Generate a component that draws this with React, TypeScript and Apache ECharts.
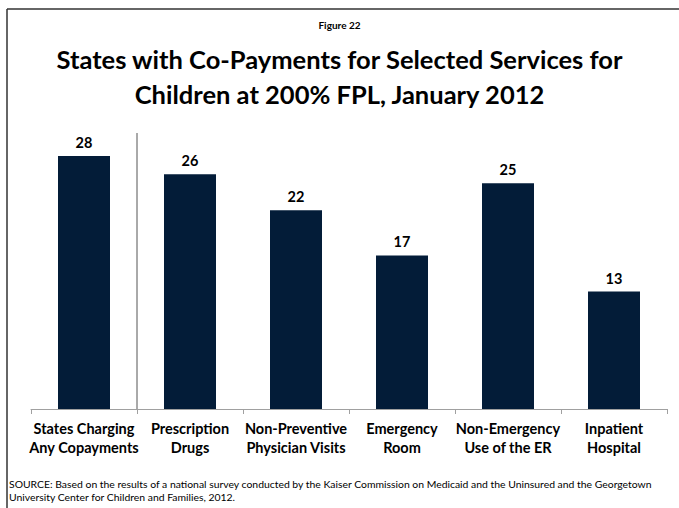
import React, { useEffect, useRef } from "react";
import * as echarts from "echarts";

const categories = [
  "States Charging\nAny Copayments",
  "Prescription\nDrugs",
  "Non-Preventive\nPhysician Visits",
  "Emergency\nRoom",
  "Non-Emergency\nUse of the ER",
  "Inpatient\nHospital",
];
const values = [28, 26, 22, 17, 25, 13];
const figureLabel = "Figure 22";
const titleText = "States with Co-Payments for Selected Services for\nChildren at 200% FPL, January 2012";
const sourceText =
  "SOURCE: Based on the results of a national survey conducted by the Kaiser Commission on Medicaid and the Uninsured and the Georgetown\nUniversity Center for Children and Families, 2012.";

const FONT = "Lato, 'Open Sans', sans-serif";

export default function App() {
  const ref = useRef<HTMLDivElement>(null);
  useEffect(() => {
    if (!ref.current) return;
    const chart = echarts.init(ref.current, null, { renderer: "svg" });
    chart.setOption({
      animation: false,
      backgroundColor: "#ffffff",
      title: [
        {
          text: figureLabel,
          left: "center",
          top: 15,
          textStyle: { fontFamily: FONT, fontSize: 10, fontWeight: "bold", color: "#000" },
        },
        {
          text: titleText,
          left: "center",
          top: 36,
          textStyle: {
            fontFamily: FONT,
            fontSize: 25.5,
            fontWeight: "bold",
            color: "#000",
            lineHeight: 35,
          },
        },
      ],
      grid: { left: 31, right: 12, top: 138, bottom: 99, containLabel: false },
      xAxis: {
        type: "category",
        data: categories,
        axisLine: { lineStyle: { color: "#a0a0a0", width: 1 } },
        axisTick: { show: true, length: 5, lineStyle: { color: "#a0a0a0" } },
        axisLabel: {
          interval: 0,
          margin: 10,
          fontFamily: FONT,
          fontSize: 14.5,
          fontWeight: "bold",
          color: "#000",
          lineHeight: 19,
        },
      },
      yAxis: {
        type: "value",
        min: 0,
        max: 30,
        show: false,
        splitLine: { show: false },
      },
      series: [
        {
          type: "bar",
          data: values,
          barWidth: 52,
          itemStyle: { color: "#031C38" },
          label: {
            show: true,
            position: "top",
            distance: 6,
            fontFamily: FONT,
            fontSize: 14.5,
            fontWeight: "bold",
            color: "#000",
          },
        },
      ],
      graphic: [
        {
          type: "line",
          shape: { x1: 7, y1: 9, x2: 679, y2: 9 },
          style: { stroke: "#333", lineWidth: 1.5 },
        },
        {
          type: "line",
          shape: { x1: 7, y1: 9, x2: 7, y2: 508 },
          style: { stroke: "#333", lineWidth: 1.5 },
        },
        {
          type: "line",
          shape: { x1: 137, y1: 133, x2: 137, y2: 409 },
          style: { stroke: "#555", lineWidth: 1 },
        },
        {
          type: "text",
          left: 9,
          top: 478,
          style: {
            text: sourceText,
            fontFamily: FONT,
            fontSize: 10.4,
            lineHeight: 12.5,
            fill: "#000",
          },
        },
      ],
    });
    return () => chart.dispose();
  }, []);
  return (
    <div
      ref={ref}
      style={{ position: "fixed", left: 0, top: 0, width: 679, height: 508 }}
    />
  );
}
